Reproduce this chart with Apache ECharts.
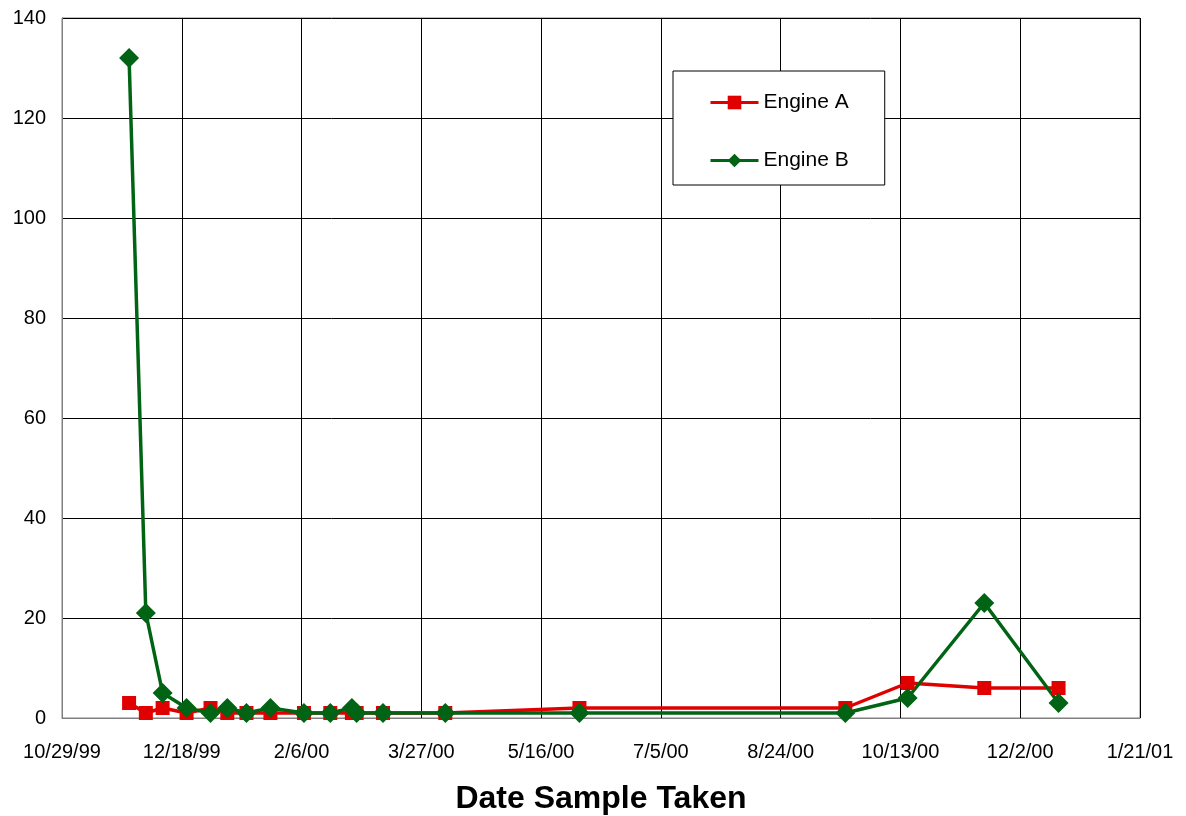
<!DOCTYPE html>
<html>
<head>
<meta charset="utf-8">
<script src="https://cdn.jsdelivr.net/npm/echarts@6/dist/echarts.min.js"></script>
<style>
html,body{margin:0;padding:0;background:#fff;}
#chart{width:1186px;height:816px;}
</style>
</head>
<body>
<div id="chart"></div>
<script>
// Sample dates (M/D/YY)
const sampleDates = ['11/26/99','12/3/99','12/10/99','12/20/99','12/30/99','1/6/00','1/14/00','1/24/00','2/7/00','2/18/00','2/27/00','2/29/00','3/11/00','4/6/00','6/1/00','9/20/00','10/16/00','11/17/00','12/18/00'];
const engineA = [3, 1, 2, 1, 2, 1, 1, 1, 1, 1, 1, 1, 1, 1, 2, 2, 7, 6, 6];
const engineB = [132, 21, 5, 2, 1, 2, 1, 2, 1, 1, 2, 1, 1, 1, 1, 1, 4, 23, 3];
const axisStart = '10/29/99';
const axisSpanDays = 450;
const tickStepDays = 50;
const yMax = 140;
const yStep = 20;

function parseDate(s){
  const [m,d,y] = s.split('/').map(Number);
  return Date.UTC(2000 + (y > 50 ? y - 100 : y), m - 1, d);
}
const DAY = 86400000;
const t0 = parseDate(axisStart);
function dayOffset(s){ return Math.round((parseDate(s) - t0) / DAY); }
function fmt(day){
  const dt = new Date(t0 + day * DAY);
  const yy = String(dt.getUTCFullYear() % 100).padStart(2,'0');
  return (dt.getUTCMonth()+1) + '/' + dt.getUTCDate() + '/' + yy;
}
const xs = sampleDates.map(dayOffset);
const dataA = xs.map((x,i)=>[x, engineA[i]]);
const dataB = xs.map((x,i)=>[x, engineB[i]]);

const font = 'Liberation Sans, Arial, sans-serif';
const chart = echarts.init(document.getElementById('chart'));
chart.setOption({
  animation:false,
  backgroundColor:'#fff',
  grid:{left:62, right:46, top:18, bottom:98, show:true, borderColor:'#808080', borderWidth:1,
        backgroundColor:'transparent', containLabel:false, outerBoundsMode:'none'},
  legend:{
    left:673, top:71, orient:'vertical',
    backgroundColor:'#fff', borderColor:'#000', borderWidth:1,
    padding:[21,36,14,36],
    itemWidth:48, itemHeight:17, itemGap:37,
    lineStyle:{width:3},
    textStyle:{fontFamily:font, fontSize:21, color:'#000'},
    data:['Engine A','Engine B']
  },
  xAxis:{
    type:'value', min:0, max:axisSpanDays, interval:tickStepDays,
    name:'Date Sample Taken', nameLocation:'middle', nameGap:65,
    nameTextStyle:{fontFamily:font, fontSize:32, fontWeight:'bold', color:'#000'},
    axisLine:{show:true, onZero:false, lineStyle:{color:'#808080', width:1}},
    axisTick:{show:false},
    axisLabel:{formatter:v=>fmt(v), fontFamily:font, fontSize:20, color:'#000', margin:24},
    splitLine:{show:true, lineStyle:{color:'#000', width:1}}
  },
  yAxis:{
    type:'value', min:0, max:yMax, interval:yStep,
    axisLine:{show:true, lineStyle:{color:'#808080', width:1}},
    axisTick:{show:false},
    axisLabel:{fontFamily:font, fontSize:20, color:'#000', margin:16},
    splitLine:{show:true, lineStyle:{color:'#000', width:1}}
  },
  series:[
    {name:'Engine A', type:'line', data:dataA, symbol:'rect', symbolSize:14,
     itemStyle:{color:'#E00000'}, lineStyle:{color:'#E00000', width:3.5}},
    {name:'Engine B', type:'line', data:dataB, symbol:'diamond', symbolSize:20,
     itemStyle:{color:'#006414'}, lineStyle:{color:'#006414', width:3.5}}
  ]
});
</script>
</body>
</html>
